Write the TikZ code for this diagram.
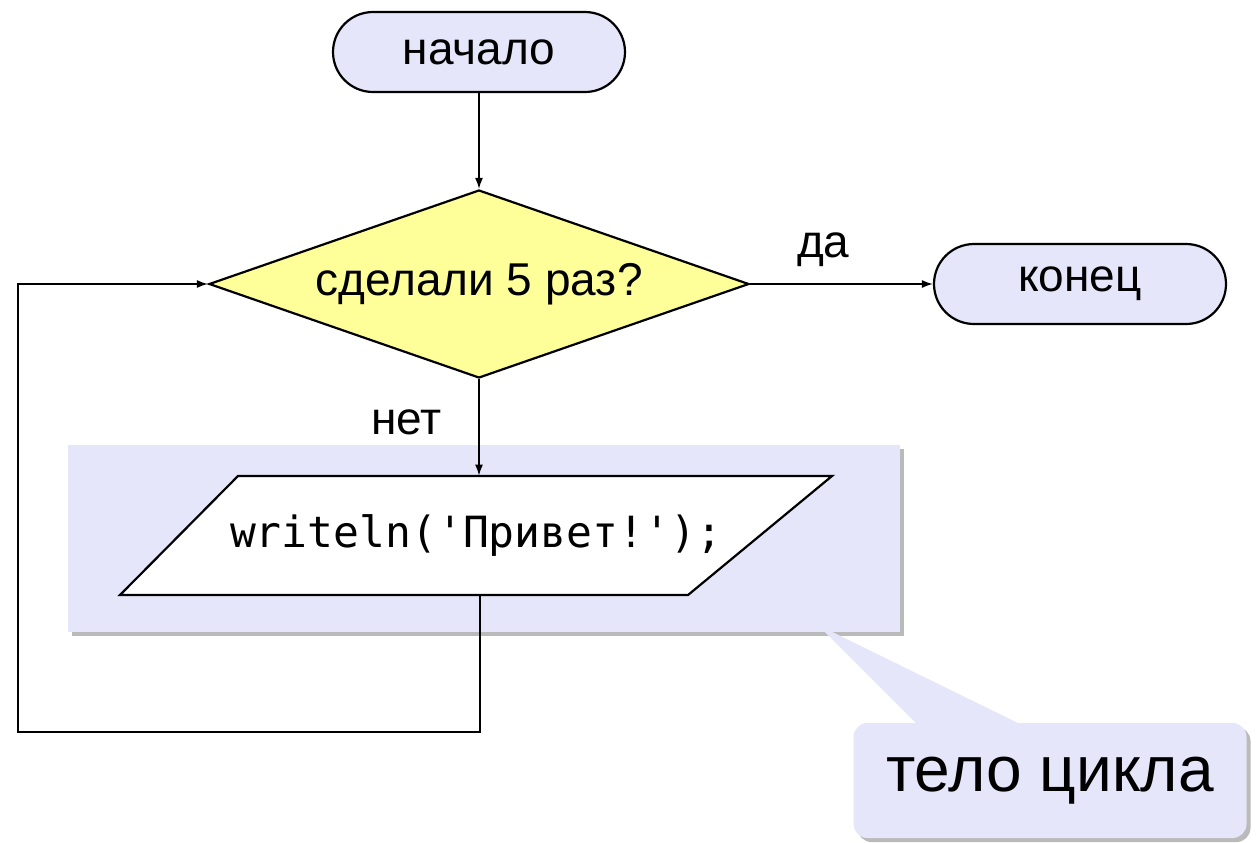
\documentclass[tikz,border=0pt]{standalone}
\usepackage{fontspec}
\setmainfont{Liberation Sans}
\setmonofont{DejaVu Sans Mono}
\usetikzlibrary{arrows.meta,shapes.geometric,shadows}
\definecolor{lav}{RGB}{230,230,250}
\definecolor{paleyellow}{RGB}{255,255,153}
\tikzset{
  terminal/.style={draw, thick, fill=lav, rounded corners=20pt, line width=1.1pt,
    minimum width=146pt, minimum height=40pt, font=\fontsize{23}{26}\selectfont},
  decision/.style={draw, diamond, fill=paleyellow, line width=1.1pt, aspect=2.87,
    inner sep=0pt, minimum width=270pt, minimum height=94pt,
    font=\fontsize{23}{26}\selectfont},
  io/.style={draw, fill=white, line width=1.1pt},
  iotext/.style={inner sep=0pt, minimum width=280pt, minimum height=59.5pt,
    font=\ttfamily\fontsize{21.5}{24}\selectfont},
  lbl/.style={font=\fontsize{23}{26}\selectfont},
  bodybox/.style={fill=lav, drop shadow={shadow xshift=2pt, shadow yshift=-2pt,
    opacity=0.45, fill=black!60}},
  arr/.style={-{Latex[length=5.5pt,width=4pt]}, line width=0.75pt},
}
\begin{document}
\begin{tikzpicture}[x=0.5pt,y=-0.5pt]
  \useasboundingbox (0,0) rectangle (1258,842);

  % loop body
  \node[bodybox, minimum width=416pt, minimum height=93.5pt] (body) at (484,538.5) {};

  % callout
  \coordinate (tip) at (818,625);
  \fill[lav] (tip) -- (917,724) -- (1020,724) -- cycle;
  \node[bodybox, rounded corners=7pt, minimum width=196.5pt, minimum height=57.5pt,
    font=\fontsize{32}{35}\selectfont] (note) at (1050,780.5) {тело цикла};

  % output block
  \draw[io] (120,595) -- (688,595) -- (832,476) -- (238,476) -- cycle;
  \node[iotext] (out) at (476,535.5) {writeln('Привет!');};

  % blocks
  \node[terminal] (start) at (479,52) {начало};
  \node[decision] (dec) at (479,284) {сделали 5 раз?};
  \node[terminal] (stop) at (1080,284) {конец};

  % connectors
  \draw[arr] (start) -- (dec);
  \draw[arr] (dec.east) -- node[lbl, above=5pt, pos=0.4] {да} (stop.west);
  \draw[arr] (dec.south) -- node[lbl, left=15pt, pos=0.45] {нет} (dec.south |- out.north);
  \coordinate (lb) at (18,732);
  \draw[arr] ([xshift=2pt]out.south) |- (lb) |- (dec.west);

\end{tikzpicture}
\end{document}
